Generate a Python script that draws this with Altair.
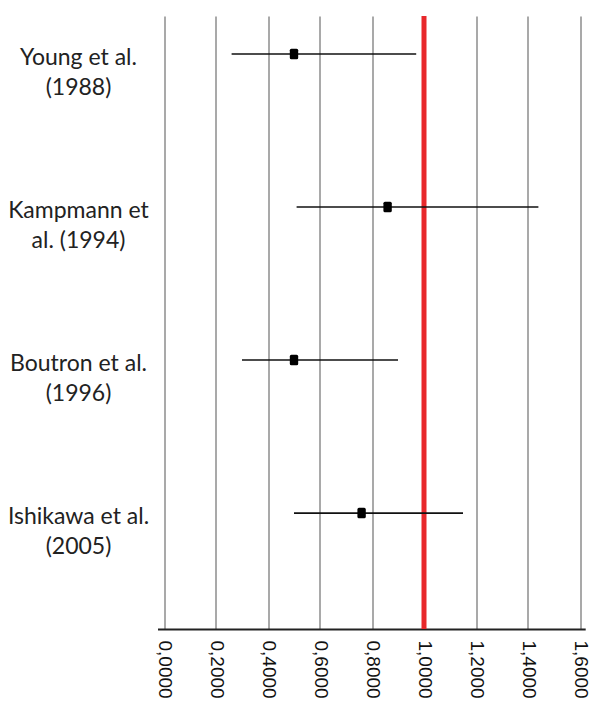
import altair as alt
import pandas as pd

# ---- data ----
studies = [
    "Young et al.\n(1988)",
    "Kampmann et\nal. (1994)",
    "Boutron et al.\n(1996)",
    "Ishikawa et al.\n(2005)",
]
estimate = [0.50, 0.86, 0.50, 0.76]
lower = [0.26, 0.51, 0.30, 0.50]
upper = [0.97, 1.44, 0.90, 1.15]
tick_values = [0.0, 0.2, 0.4, 0.6, 0.8, 1.0, 1.2, 1.4, 1.6]
reference_value = [1.0]

df = pd.DataFrame({"study": studies, "est": estimate, "lo": lower, "hi": upper})
ref_df = pd.DataFrame({"ref": reference_value})

x_scale = alt.Scale(domain=[-0.025, 1.62], nice=False, zero=False)
y_enc = alt.Y(
    "study:N",
    sort=studies,
    scale=alt.Scale(type="point", padding=0.503, align=0.247),
    axis=None,
)

x_axis = alt.Axis(
    values=tick_values,
    grid=True,
    gridColor="#8c8c8c",
    gridWidth=1.5,
    domainColor="#222222",
    domainWidth=2,
    ticks=False,
    tickSize=0,
    labelAngle=90,
    labelAlign="left",
    labelBaseline="middle",
    labelPadding=11,
    labelFontSize=19,
    labelFont="Liberation Sans",
    labelColor="#111111",
    labelExpr="replace(format(datum.value, '.4f'), '.', ',')",
    labelOverlap=False,
    labelFlush=False,
    labelBound=False,
    title=None,
)

ref_rule = alt.Chart(ref_df).mark_rule(color="#e8282b", strokeWidth=5).encode(
    x=alt.X("ref:Q", scale=x_scale, axis=x_axis)
)

bars = alt.Chart(df).mark_rule(color="#111111", strokeWidth=1.6).encode(
    x=alt.X("lo:Q", scale=x_scale),
    x2="hi:Q",
    y=y_enc,
)

marker_path = "M -0.8 -0.7 Q -0.8 -1 -0.5 -1 L 0.5 -1 Q 0.8 -1 0.8 -0.7 L 0.8 0.7 Q 0.8 1 0.5 1 L -0.5 1 Q -0.8 1 -0.8 0.7 Z"
points = alt.Chart(df).mark_point(
    shape=marker_path, filled=True, color="#000000", size=110, opacity=1
).encode(
    x=alt.X("est:Q", scale=x_scale),
    y=y_enc,
)

labels = alt.Chart(df).mark_text(
    align="center",
    baseline="middle",
    lineBreak="\n",
    font="Lato",
    fontSize=23,
    lineHeight=30,
    color="#222222",
    dy=4,
).encode(
    text="study:N",
    y=y_enc,
    x=alt.value(-79),
)

chart = (
    alt.layer(ref_rule, bars, points, labels)
    .properties(
        width=427.7,
        height=613,
        autosize=alt.AutoSizeParams(type="none"),
        padding={"left": 149.5, "top": 8, "right": 4.8, "bottom": 72},
    )
    .configure_view(stroke=None)
)

chart.save("out.html", embed_options={"renderer": "svg", "actions": False})
